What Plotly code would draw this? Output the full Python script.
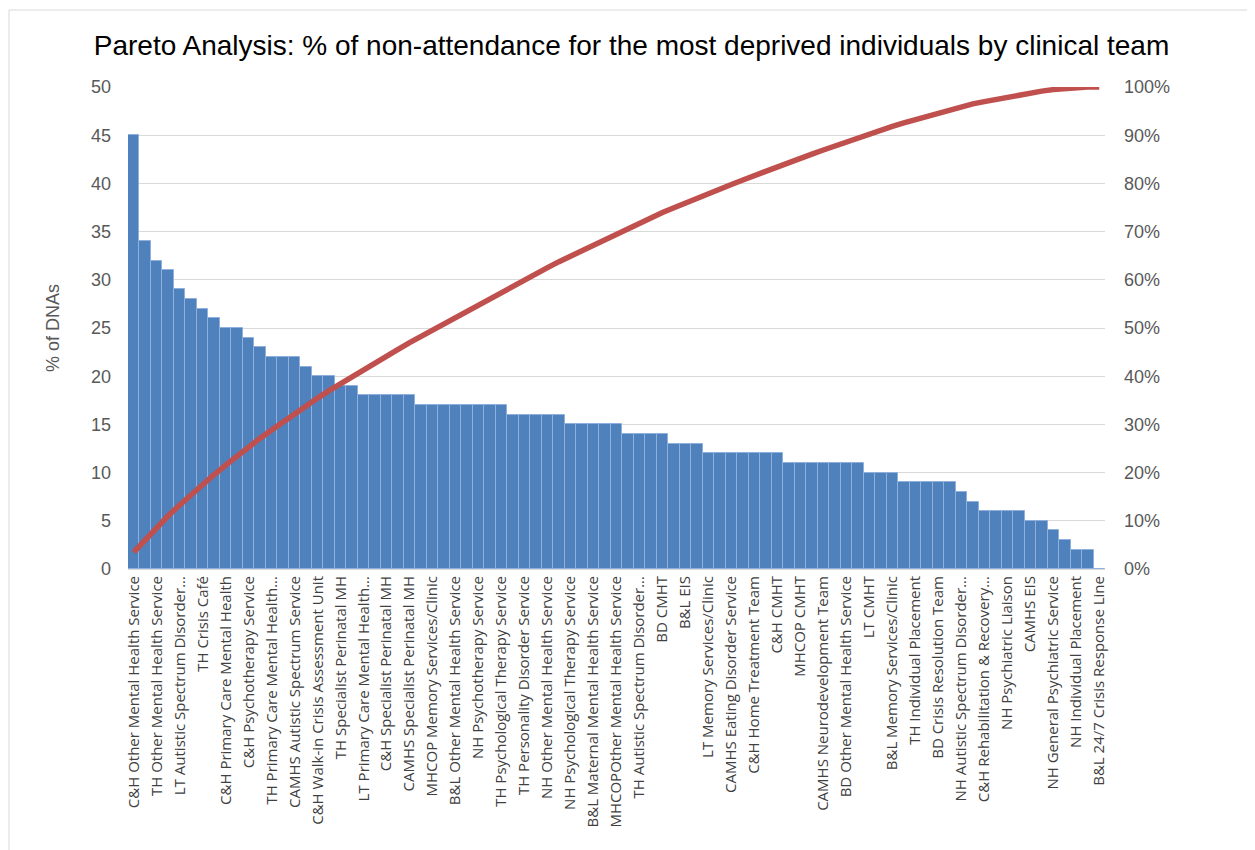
import plotly.graph_objects as go

# 85 clinical teams, sorted by % DNAs (only every other team is labelled on the axis)
dna_pct = [45, 34, 32, 31, 29, 28, 27, 26, 25, 25, 24, 23,
           22, 22, 22, 21, 20, 20, 19, 19,
           18, 18, 18, 18, 18,
           17, 17, 17, 17, 17, 17, 17, 17,
           16, 16, 16, 16, 16,
           15, 15, 15, 15, 15,
           14, 14, 14, 14,
           13, 13, 13,
           12, 12, 12, 12, 12, 12, 12,
           11, 11, 11, 11, 11, 11, 11,
           10, 10, 10,
           9, 9, 9, 9, 9,
           8, 7, 6, 6, 6, 6, 5, 5, 4, 3, 2, 2, 0]

tick_labels = [
    "C&H Other Mental Health Service", "TH Other Mental Health Service",
    "LT Autistic Spectrum Disorder...", "TH Crisis Café",
    "C&H Primary Care Mental Health", "C&H Psychotherapy Service",
    "TH Primary Care Mental Health...", "CAMHS Autistic Spectrum Service",
    "C&H Walk-in Crisis Assessment Unit", "TH Specialist Perinatal MH",
    "LT Primary Care Mental Health...", "C&H Specialist Perinatal MH",
    "CAMHS Specialist Perinatal MH", "MHCOP Memory Services/Clinic",
    "B&L Other Mental Health Service", "NH Psychotherapy Service",
    "TH Psychological Therapy Service", "TH Personality Disorder Service",
    "NH Other Mental Health Service", "NH Psychological Therapy Service",
    "B&L Maternal Mental Health Service", "MHCOPOther Mental Health Service",
    "TH Autistic Spectrum Disorder...", "BD CMHT", "B&L EIS",
    "LT Memory Services/Clinic", "CAMHS Eating Disorder Service",
    "C&H Home Treatment Team", "C&H CMHT", "MHCOP CMHT",
    "CAMHS Neurodevelopment Team", "BD Other Mental Health Service",
    "LT CMHT", "B&L Memory Services/Clinic", "TH Individual Placement",
    "BD Crisis Resolution Team", "NH Autistic Spectrum Disorder...",
    "C&H Rehabilitation & Recovery...", "NH Psychiatric Liaison",
    "CAMHS EIS", "NH General Psychiatric Service",
    "NH Individual Placement", "B&L 24/7 Crisis Response Line",
]

positions = list(range(1, len(dna_pct) + 1))
tick_positions = positions[::2]

total = sum(dna_pct)
cumulative = []
running = 0
for v in dna_pct:
    running += v
    cumulative.append(running / total)

fig = go.Figure()
fig.add_trace(go.Bar(
    x=positions, y=dna_pct, name="% of DNAs",
    marker=dict(color="#4f81bd", line=dict(color="#8fb0dc", width=1)),
))
fig.add_trace(go.Scatter(
    x=positions, y=cumulative, yaxis="y2", mode="lines", name="Cumulative %",
    line=dict(color="#c0504d", width=5.5),
))

axis_font = dict(family="Liberation Sans, Arial, sans-serif", size=18, color="#595959")

W, H = 1247, 842
L, R, T, B = 120, 150, 79, 281
pw, ph = W - L - R, H - T - B

fig.update_layout(
    width=W, height=H,
    paper_bgcolor="white", plot_bgcolor="white",
    margin=dict(l=L, r=R, t=T, b=B),
    showlegend=False,
    bargap=0,
    title=dict(
        text="Pareto Analysis: % of non-attendance for the most deprived individuals by clinical team",
        x=0.5, xanchor="center", y=1 - 37 / H, yanchor="middle",
        font=dict(family="Liberation Sans, Arial, sans-serif", size=28, color="#000000"),
    ),
    xaxis=dict(
        range=[0.5, len(dna_pct) + 0.5],
        tickmode="array", tickvals=tick_positions, ticktext=tick_labels,
        tickangle=-90, tickfont=dict(family="Open Sans, sans-serif", size=15, color="#404040"),
        showgrid=False, showline=True, linecolor="#d9d9d9", linewidth=1,
        ticks="", zeroline=False,
    ),
    yaxis=dict(
        range=[0, 50], dtick=5, tickfont=axis_font, ticklabelstandoff=16,
        showgrid=True, gridcolor="#d9d9d9", gridwidth=1,
        zeroline=False, showline=False, ticks="",
        title=dict(text="% of DNAs", font=dict(family="Liberation Sans, Arial, sans-serif",
                                               size=18, color="#595959"), standoff=26),
    ),
    yaxis2=dict(
        range=[0, 1], dtick=0.1, tickformat=".0%", overlaying="y", side="right",
        tickfont=axis_font, ticklabelstandoff=18,
        showgrid=False, zeroline=False, showline=False, ticks="",
    ),
    shapes=[dict(
        type="rect", xref="paper", yref="paper",
        x0=(1 - L) / pw, x1=(W + 20 - L) / pw, y0=-(B + 20) / ph, y1=1 + (T - 2) / ph,
        line=dict(color="#d9d9d9", width=1), fillcolor="rgba(0,0,0,0)", layer="below",
    )],
)

fig.write_html("out.html")
